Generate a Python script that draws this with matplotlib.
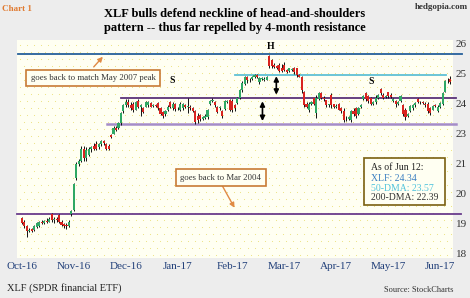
import matplotlib.pyplot as plt
import numpy as np

plt.rcParams['font.family'] = ['Liberation Serif', 'DejaVu Serif']

# daily OHLC, trading-day index 0..173 (Oct-16 .. Jun 12, 2017), in chart units
opens = [20.18, 20.05, 19.92, 19.75, 19.8, 19.78, 19.88, 19.92, 20.05, 20.02,
         20.08, 20.06, 20.3, 20.12, 20.15, 20.28, 20.05, 19.98, 19.95, 19.92,
         20.3, 20.45, 21.5, 22.0, 22.1, 22.5, 22.2, 22.3, 22.5, 22.6,
         22.65, 22.55, 22.65, 22.75, 22.65, 22.6, 22.95, 23.0, 23.2, 23.2,
         23.35, 23.75, 23.95, 24.05, 23.95, 24.0, 23.8, 24.1, 23.9, 23.85,
         23.9, 23.95, 24.02, 23.92, 23.95, 24.02, 23.85, 23.72, 23.65, 23.8,
         24.05, 23.85, 24.0, 23.85, 23.8, 23.85, 23.95, 23.9, 23.9, 23.85,
         23.75, 23.6, 23.62, 23.5, 23.52, 23.55, 23.98, 24.1, 24.05, 23.9,
         23.85, 23.75, 23.82, 24.05, 24.12, 24.1, 23.95, 24.02, 24.2, 24.45,
         24.65, 24.88, 24.78, 24.82, 24.88, 24.95, 24.72, 24.82, 24.8, 24.8,
         25.6, 25.45, 25.3, 25.25, 25.3, 25.2, 25.3, 25.12, 25.1, 25.12,
         25.2, 25.18, 24.95, 24.9, 24.4, 24.0, 23.8, 24.0, 24.18, 23.7,
         24.15, 24.35, 24.2, 24.12, 23.95, 24.3, 23.98, 23.9, 24.0, 23.85,
         23.75, 23.5, 23.5, 23.45, 23.75, 23.85, 23.65, 23.9, 24.15, 24.35,
         24.25, 24.2, 24.0, 24.05, 24.2, 24.5, 24.3, 24.22, 24.38, 24.3,
         24.1, 24.1, 24.0, 24.1, 23.96, 23.8, 23.6, 23.75, 23.85, 23.95,
         24.15, 24.05, 24.05, 24.0, 24.0, 23.85, 23.8, 23.95, 23.75, 23.9,
         24.0, 24.4, 24.78, 24.82]
highs = [20.22, 20.1, 19.95, 19.85, 19.85, 19.95, 20.05, 20.08, 20.1, 20.12,
         20.18, 20.2, 20.36, 20.2, 20.2, 20.32, 20.1, 20.02, 20.0, 20.1,
         20.45, 21.35, 22.05, 22.15, 22.6, 22.6, 22.55, 22.55, 22.6, 22.7,
         22.75, 22.7, 22.8, 22.8, 22.7, 22.65, 23.0, 23.25, 23.25, 23.4,
         23.72, 24.0, 24.15, 24.15, 24.05, 24.05, 24.1, 24.15, 24.0, 23.9,
         24.08, 24.1, 24.05, 23.98, 24.0, 24.05, 23.9, 23.76, 23.8, 23.95,
         24.08, 24.05, 24.02, 23.9, 24.05, 24.02, 23.98, 24.18, 23.95, 23.9,
         23.78, 23.7, 23.66, 23.6, 23.65, 23.82, 24.14, 24.18, 24.1, 23.92,
         23.92, 23.78, 24.13, 24.13, 24.15, 24.15, 24.0, 24.22, 24.5, 24.76,
         24.92, 24.92, 24.85, 24.92, 25.0, 24.98, 24.9, 24.9, 24.88, 24.92,
         25.64, 25.5, 25.36, 25.3, 25.36, 25.32, 25.38, 25.15, 25.2, 25.2,
         25.23, 25.2, 25.0, 24.92, 24.42, 24.05, 24.06, 24.1, 24.2, 24.3,
         24.4, 24.38, 24.25, 24.13, 24.0, 24.36, 24.0, 23.98, 24.03, 23.9,
         23.86, 23.6, 23.6, 23.8, 23.85, 23.9, 23.9, 24.0, 24.3, 24.4,
         24.3, 24.23, 24.08, 24.3, 24.32, 24.53, 24.35, 24.28, 24.4, 24.35,
         24.2, 24.13, 24.08, 24.3, 23.98, 23.85, 23.7, 23.96, 24.0, 24.06,
         24.2, 24.1, 24.08, 24.06, 24.06, 23.9, 23.96, 24.0, 23.95, 24.06,
         24.4, 24.8, 24.85, 24.92]
lows = [19.98, 19.85, 19.55, 19.7, 19.7, 19.75, 19.85, 19.88, 19.98, 19.98,
        20.02, 20.03, 20.05, 20.0, 20.05, 20.0, 19.9, 19.85, 19.82, 19.88,
        20.25, 20.4, 21.45, 21.9, 22.05, 22.1, 22.1, 22.25, 22.4, 22.45,
        22.45, 22.5, 22.6, 22.62, 22.45, 22.45, 22.85, 22.98, 23.1, 23.15,
        23.3, 23.7, 23.9, 23.9, 23.8, 23.72, 23.78, 23.85, 23.6, 23.68,
        23.88, 23.9, 23.88, 23.88, 23.9, 23.8, 23.62, 23.53, 23.6, 23.75,
        23.85, 23.8, 23.75, 23.78, 23.75, 23.8, 23.85, 23.68, 23.8, 23.72,
        23.32, 23.35, 23.42, 23.45, 23.48, 23.5, 23.95, 24.05, 23.9, 23.68,
        23.8, 23.52, 23.8, 24.02, 23.75, 23.72, 23.75, 24.0, 24.15, 24.4,
        24.62, 24.7, 24.72, 24.8, 24.85, 24.86, 24.66, 24.78, 24.75, 24.78,
        25.2, 25.2, 25.18, 25.15, 25.05, 25.05, 25.08, 25.03, 25.06, 25.08,
        25.0, 24.9, 24.88, 24.36, 23.88, 23.86, 23.73, 23.95, 23.96, 23.53,
        24.12, 24.15, 24.1, 23.9, 23.9, 23.86, 23.86, 23.85, 23.78, 23.7,
        23.4, 23.42, 23.45, 23.4, 23.6, 23.53, 23.63, 23.85, 24.13, 24.1,
        24.03, 23.96, 23.95, 24.0, 24.15, 24.3, 24.15, 24.18, 24.2, 24.2,
        24.05, 23.9, 23.95, 24.06, 23.6, 23.46, 23.55, 23.73, 23.8, 23.9,
        24.03, 24.0, 23.98, 23.9, 23.7, 23.63, 23.78, 23.9, 23.73, 23.85,
        23.96, 24.38, 24.7, 24.65]
closes = [20.0, 19.9, 19.75, 19.78, 19.75, 19.9, 20.02, 20.06, 20.02, 20.08,
          20.05, 20.16, 20.1, 20.15, 20.1, 20.05, 19.95, 19.92, 19.9, 20.05,
          20.42, 21.3, 22.0, 22.1, 22.5, 22.2, 22.45, 22.5, 22.55, 22.5,
          22.5, 22.65, 22.75, 22.68, 22.5, 22.5, 22.88, 23.2, 23.12, 23.35,
          23.7, 23.95, 24.05, 23.95, 23.85, 23.78, 24.05, 23.9, 23.95, 23.72,
          24.05, 24.05, 23.9, 23.95, 23.93, 23.85, 23.65, 23.6, 23.75, 23.9,
          23.9, 24.0, 23.82, 23.85, 24.0, 23.98, 23.88, 23.92, 23.85, 23.75,
          23.4, 23.45, 23.48, 23.55, 23.6, 23.78, 24.1, 24.12, 23.95, 23.72,
          23.88, 23.6, 24.1, 24.1, 23.8, 23.78, 23.85, 24.18, 24.45, 24.7,
          24.88, 24.78, 24.8, 24.9, 24.95, 24.9, 24.85, 24.85, 24.82, 24.9,
          25.25, 25.25, 25.22, 25.2, 25.1, 25.1, 25.12, 25.06, 25.18, 25.16,
          25.05, 24.95, 24.9, 24.45, 23.95, 23.9, 24.0, 24.05, 24.0, 24.2,
          24.35, 24.2, 24.15, 23.95, 23.98, 23.95, 23.9, 23.92, 23.8, 23.75,
          23.45, 23.48, 23.55, 23.75, 23.65, 23.6, 23.85, 23.95, 24.25, 24.15,
          24.1, 24.0, 24.05, 24.2, 24.28, 24.35, 24.2, 24.25, 24.25, 24.22,
          24.15, 24.0, 24.05, 24.25, 23.65, 23.55, 23.65, 23.92, 23.95, 24.03,
          24.06, 24.06, 24.02, 23.95, 23.75, 23.68, 23.92, 23.93, 23.9, 24.02,
          24.35, 24.75, 24.8, 24.72]

month_labels = ['Oct-16', 'Nov-16', 'Dec-16', 'Jan-17', 'Feb-17',
                'Mar-17', 'Apr-17', 'May-17', 'Jun-17']
month_pos = [0, 21, 42, 63, 85, 106, 127, 148, 169]

ytick_pos = [26, 25, 24, 23, 22, 21, 20, 19]
ytick_labels = ['26', '25', '24', '23', '21', '20', '19', '18']

# horizontal levels: (value, x start, x end, colour, width)
levels = [(25.66, -1.6, 177.8, '#26609a', 1.3),
          (24.95, 85.9, 171.4, '#5fc0d5', 1.3),
          (24.18, 39.9, 175.4, '#5a3278', 1.3),
          (23.31, 34.3, 175.4, '#a58cc8', 1.8),
          (20.31, -2.0, 177.4, '#6a3c8c', 1.3)]

W, H = 470, 298
fig = plt.figure(figsize=(W / 100, H / 100), dpi=100)
fig.patch.set_facecolor('#ededed')
ax = fig.add_axes([17 / W, 1 - 258 / H, (453 - 17) / W, 218 / H])
ax.set_facecolor('#fffff2')

# dotted background
gx, gy = np.meshgrid(np.arange(3, 436, 7), np.arange(3, 218, 7))
gx = gx + (np.arange(gx.shape[0])[:, None] % 2) * 3.5
ax.scatter(gx.ravel() / 436, gy.ravel() / 218, s=0.6, c='#ece27a',
           lw=0, transform=ax.transAxes, zorder=0)

x = np.arange(len(closes))
o = np.array(opens)
c = np.array(closes)
up = c >= o
ax.vlines(x, lows, highs, color='#111111', lw=0.7, zorder=3)
bottoms = np.minimum(o, c)
heights = np.maximum(np.abs(c - o), 0.02)
ax.bar(x[up], heights[up], bottom=bottoms[up], width=0.85,
       color='#2fa865', zorder=4)
ax.bar(x[~up], heights[~up], bottom=bottoms[~up], width=0.85,
       color='#d8231f', zorder=4)

for val, x0, x1, col, lw in levels:
    ax.plot([x0, x1], [val, val], color=col, lw=lw, zorder=2, clip_on=False)

ax.set_xlim(-2, 174.2)
ax.set_ylim(18.84, 26.13)
ax.set_xticks(month_pos)
ax.set_xticklabels(month_labels, color='#22407a', fontsize=8)
ax.yaxis.tick_right()
ax.set_yticks(ytick_pos)
ax.set_yticklabels(ytick_labels, color='#333333', fontsize=8)
ax.tick_params(axis='x', length=0, pad=3)
ax.tick_params(axis='y', length=0, pad=2)
for s in ax.spines.values():
    s.set_visible(False)

# annotations
ax.text(100.4, 25.9, 'H', fontsize=7, weight='bold', ha='center', va='center')
ax.text(60.5, 24.76, 'S', fontsize=7, weight='bold', ha='center', va='center')
ax.text(141.1, 24.73, 'S', fontsize=7, weight='bold', ha='center', va='center')

ax.annotate('', xy=(102.8, 24.92), xytext=(102.8, 24.3),
            arrowprops=dict(arrowstyle='<|-|>', color='black', lw=1.2,
                            mutation_scale=7, shrinkA=0, shrinkB=0))
ax.annotate('', xy=(97.2, 24.08), xytext=(97.2, 23.42),
            arrowprops=dict(arrowstyle='<|-|>', color='black', lw=1.2,
                            mutation_scale=7, shrinkA=0, shrinkB=0))

box_style = dict(boxstyle='square,pad=0.5', fc='#fffff2', ec='#c87a35', lw=1.2)
ax.text(28.8, 24.86, 'goes back to match May 2007 peak', fontsize=6.3,
        ha='center', va='center', color='#333333', bbox=box_style, zorder=5)
ax.annotate('', xy=(32.7, 25.57), xytext=(29.0, 25.23),
            arrowprops=dict(arrowstyle='-|>', color='#e08a45', lw=1.0,
                            mutation_scale=7, shrinkA=0, shrinkB=0))
ax.text(80.4, 21.52, 'goes back to Mar 2004', fontsize=6.3,
        ha='center', va='center', color='#333333', bbox=box_style, zorder=5)
ax.annotate('', xy=(85.9, 20.52), xytext=(81.0, 21.25),
            arrowprops=dict(arrowstyle='-|>', color='#e08a45', lw=1.0,
                            mutation_scale=7, shrinkA=0, shrinkB=0))

ax.add_patch(plt.Rectangle((138.3, 20.62), 32.7, 1.57, fc='#fffff2',
                           ec='#7a6010', lw=1.2, zorder=5))
info = [('As of Jun 12:', '#222222', 21.85),
        ('XLF: 24.34', '#3a7fc1', 21.50),
        ('50-DMA: 23.57', '#4fc3dc', 21.18),
        ('200-DMA: 22.39', '#333333', 20.85)]
for txt, col, yy in info:
    ax.text(141.1, yy, txt, fontsize=7, color=col, ha='left', va='center',
            zorder=6)

# figure texts
fig.text(2 / W, 1 - 9 / H, 'Chart 1', fontsize=6.5, weight='bold',
         color='#e07a30', ha='left', va='center')
fig.text(468 / W, 1 - 7 / H, 'hedgopia.com', fontsize=6.5, weight='bold',
         color='#333333', ha='right', va='center')
fig.text(234.5 / W, 1 - 14 / H,
         'XLF bulls defend neckline of head-and-shoulders',
         fontsize=9, weight='bold', ha='center', va='center')
fig.text(234.5 / W, 1 - 28 / H,
         'pattern -- thus far repelled by 4-month resistance',
         fontsize=9, weight='bold', ha='center', va='center')
fig.text(7 / W, 1 - 288 / H, 'XLF (SPDR financial ETF)', fontsize=7.5,
         color='#222222', ha='left', va='center')
fig.text(453 / W, 1 - 290 / H, 'Source: StockCharts', fontsize=6,
         color='#333333', ha='right', va='center')

fig.savefig('out.png', dpi=100, facecolor=fig.get_facecolor())
